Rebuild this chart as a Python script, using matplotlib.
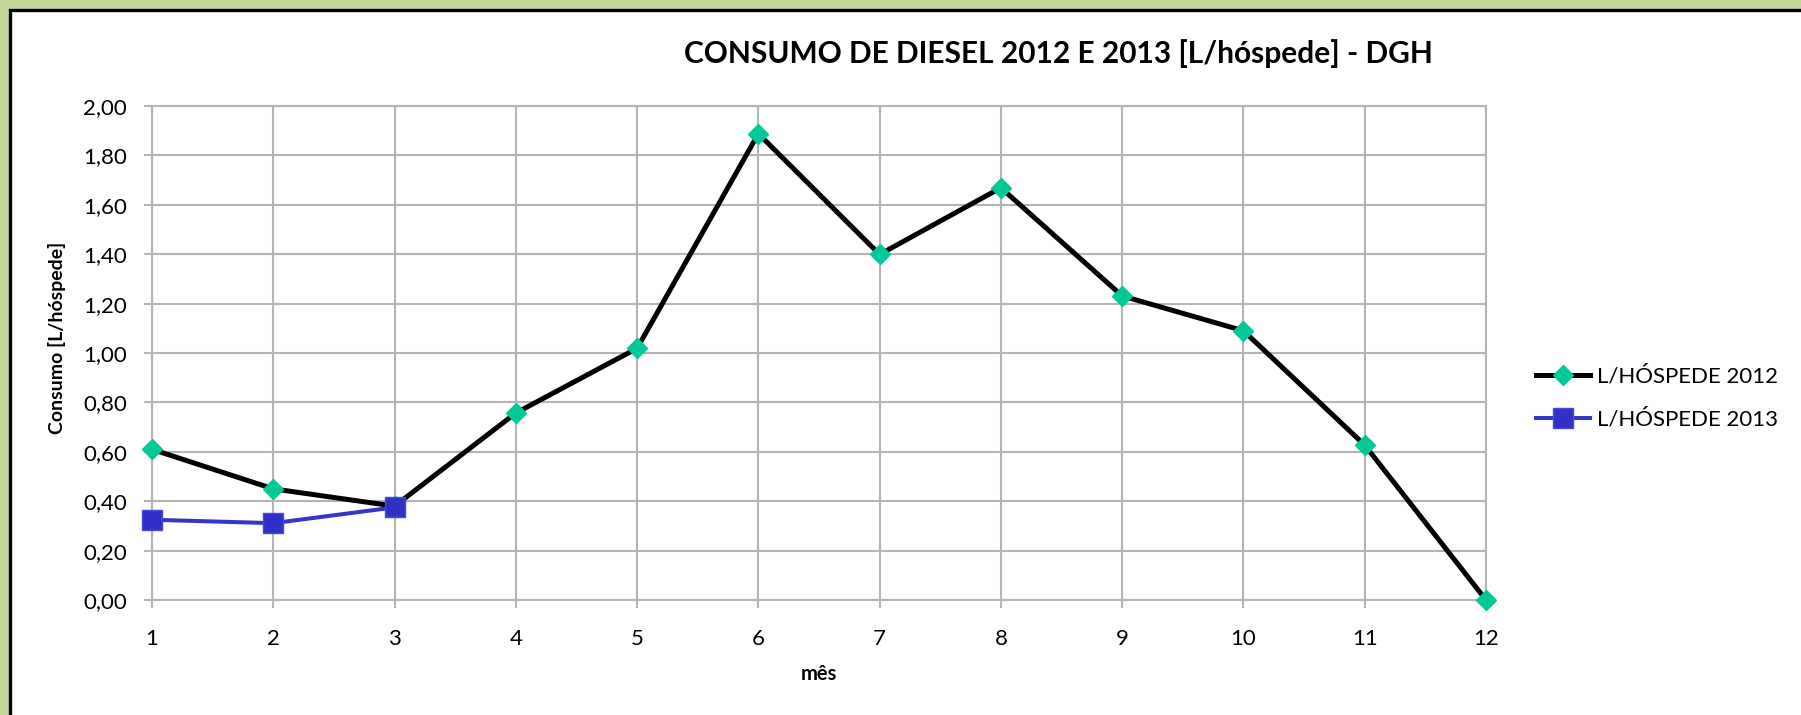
import matplotlib
matplotlib.use("Agg")
import matplotlib.pyplot as plt
from matplotlib.patches import Rectangle
from matplotlib.ticker import FuncFormatter, MultipleLocator

# ---- data ----
months = [1, 2, 3, 4, 5, 6, 7, 8, 9, 10, 11, 12]
l_hospede_2012 = [0.61, 0.45, 0.38, 0.757, 1.019, 1.888, 1.399, 1.669, 1.231, 1.09, 0.627, 0.0]
months_2013 = [1, 2, 3]
l_hospede_2013 = [0.325, 0.311, 0.375]
label_2012 = "L/HÓSPEDE 2012"
label_2013 = "L/HÓSPEDE 2013"
title = "CONSUMO DE DIESEL 2012 E 2013 [L/hóspede] - DGH"
xlabel = "mês"
ylabel = "Consumo [L/hóspede]"

plt.rcParams['font.family'] = ['Lato', 'DejaVu Sans']

W, H = 1801, 715
fig = plt.figure(figsize=(W / 100, H / 100), dpi=100)
fig.patch.set_facecolor("#c4d79b")

# chart area (white with black border, cropped on right and bottom)
bx, by = 9.5 / W, 1 - 9.5 / H
fig.patches.append(Rectangle((bx, -0.1), 1.2, by + 0.1, transform=fig.transFigure,
                             facecolor="white", edgecolor="black", linewidth=2.4, zorder=-5))

ax = fig.add_axes([152 / W, 1 - 600 / H, (1486 - 152) / W, (600 - 106) / H])
ax.set_zorder(2)
ax.set_facecolor("white")

grid_c = "#b4b4b4"
ax.plot(months, l_hospede_2012, color="black", linewidth=3.6, marker="D",
        markersize=10.5, markerfacecolor="#00c896", markeredgecolor="#00c896",
        label=label_2012, clip_on=False, zorder=3)
ax.plot(months_2013, l_hospede_2013, color="#3535c8", linewidth=2.9, marker="s",
        markersize=14, markerfacecolor="#3030c8", markeredgecolor="#4a4ad0",
        label=label_2013, clip_on=False, zorder=4)

ax.set_xlim(1, 12)
ax.set_ylim(0, 2.0)
ax.set_xticks(months)
ax.yaxis.set_major_locator(MultipleLocator(0.2))
ax.yaxis.set_major_formatter(FuncFormatter(lambda v, p: f"{v:.2f}".replace(".", ",")))
ax.grid(True, color=grid_c, linewidth=1.5)
ax.set_axisbelow(True)
for s in ax.spines.values():
    s.set_color(grid_c)
    s.set_linewidth(1.5)
ax.tick_params(axis="both", direction="out", length=6, width=1.5, color=grid_c,
               labelsize=16, labelcolor="black")
ax.tick_params(axis="y", pad=12)
ax.tick_params(axis="x", pad=15)

fig.text(1058 / W, 1 - 54 / H, title, ha="center", va="center", fontsize=21.5,
         fontweight="bold")
fig.text(57 / W, 1 - 338 / H, ylabel, ha="center", va="center", rotation=90,
         fontsize=14, fontweight="bold")
fig.text(819 / W, 1 - 674 / H, xlabel, ha="center", va="center", fontsize=14.5,
         fontweight="bold")

fig.legend(loc="center left", bbox_to_anchor=(1536 / W, 1 - 398 / H), frameon=False,
           fontsize=16, handlelength=2.45, handletextpad=0.3, labelspacing=1.0,
           borderpad=0, borderaxespad=0)

fig.savefig("out.png", dpi=100, facecolor=fig.get_facecolor())
